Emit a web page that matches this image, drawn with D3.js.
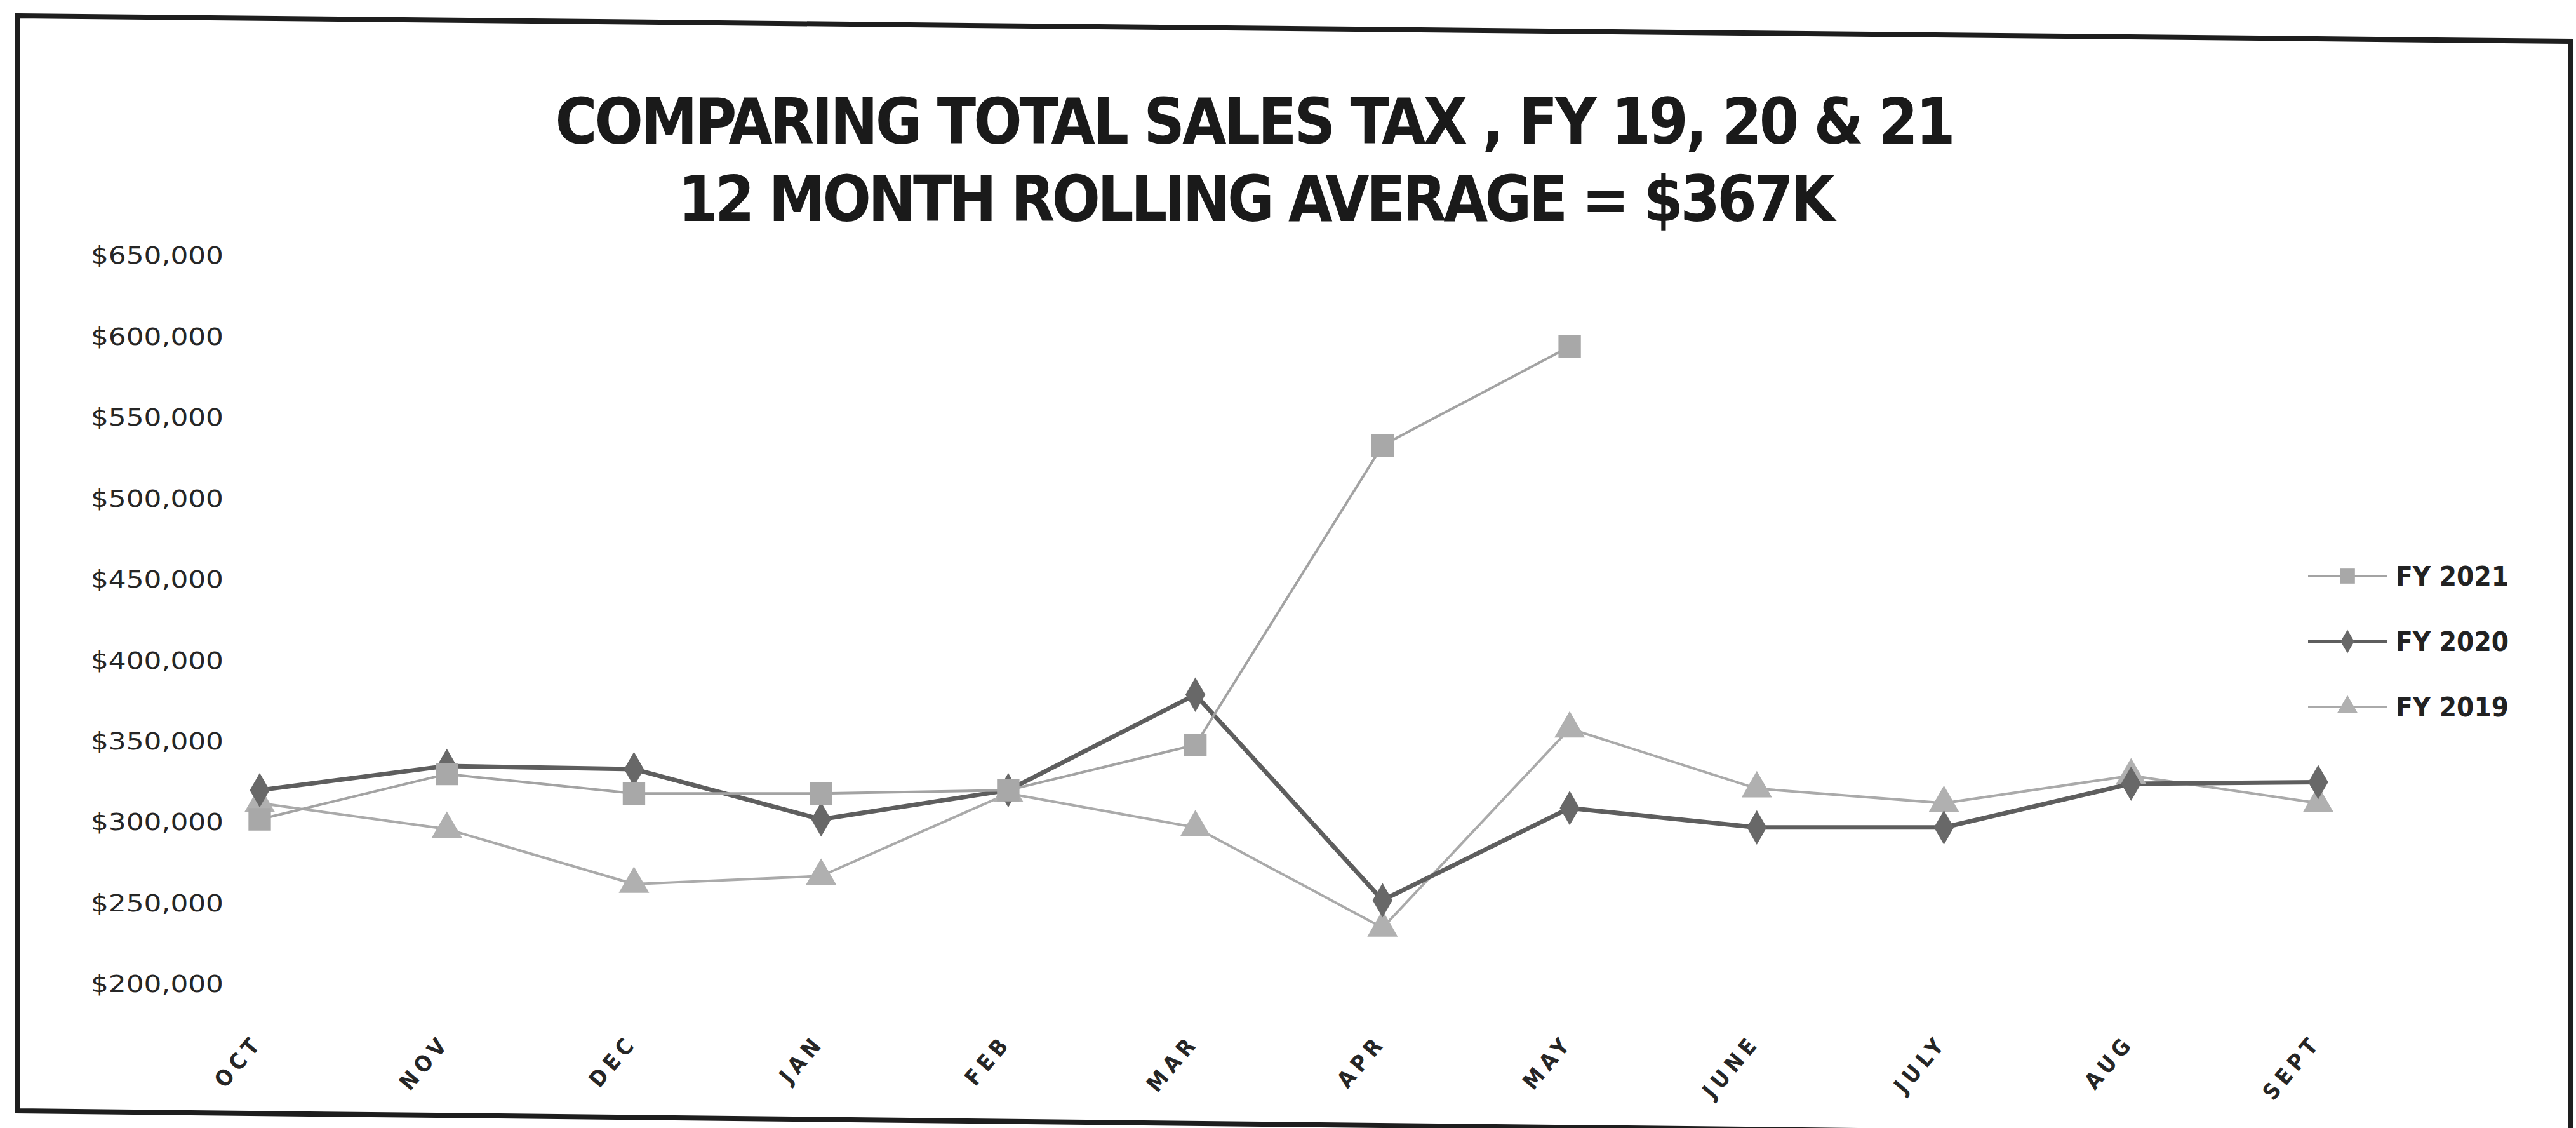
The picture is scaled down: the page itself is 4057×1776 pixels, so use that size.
<!DOCTYPE html>
<html>
<head>
<meta charset="utf-8">
<script src="https://cdn.jsdelivr.net/npm/d3@7"></script>
<style>
  html, body { margin: 0; padding: 0; background: #fff; }
  svg { display: block; }
</style>
</head>
<body>
<div id="chart"></div>
<script>
// Data
const months = ["OCT", "NOV", "DEC", "JAN", "FEB", "MAR", "APR", "MAY", "JUNE", "JULY", "AUG", "SEPT"];
const fy2021 = [302000, 330000, 318000, 318000, 320000, 348000, 533000, 594000];
const fy2020 = [320000, 335000, 333000, 302000, 320000, 379000, 252000, 309000, 297000, 297000, 324000, 325000];
const fy2019 = [312000, 296000, 262000, 267000, 318000, 297000, 235000, 358000, 321000, 312000, 329000, 312000];
const yTicks = [200000, 250000, 300000, 350000, 400000, 450000, 500000, 550000, 600000, 650000];
const titleLines = ["COMPARING TOTAL SALES TAX , FY 19, 20 & 21", "12 MONTH ROLLING AVERAGE = $367K"];

const series = [
  { name: "FY 2021", values: fy2021, color: "#a3a3a3", markerColor: "#a8a8a8", width: 4, symbol: d3.symbolSquare, size: 1250, legendSize: 560 },
  { name: "FY 2020", values: fy2020, color: "#5e5e5e", markerColor: "#686868", width: 7, symbol: d3.symbolDiamond, size: 850, legendSize: 400 },
  { name: "FY 2019", values: fy2019, color: "#aaaaaa", markerColor: "#b0b0b0", width: 4, symbol: d3.symbolTriangle, size: 1000, legendSize: 440 }
];

const width = 4057, height = 1776;
const font = "'DejaVu Sans Condensed', 'DejaVu Sans', sans-serif";

const svg = d3.select("#chart").append("svg")
  .attr("width", width)
  .attr("height", height)
  .attr("font-family", font);

svg.append("rect").attr("width", width).attr("height", height).attr("fill", "#fff");

// scanned page frame (slightly skewed)
svg.append("polygon")
  .attr("points", "28,25 4048,65 4048,1792 28,1749")
  .attr("fill", "none")
  .attr("stroke", "#1e1e1e")
  .attr("stroke-width", 8);

// title
const title = svg.append("g").attr("fill", "#1a1a1a").attr("font-weight", "bold");
title.append("text")
  .attr("x", 1977).attr("y", 226)
  .attr("text-anchor", "middle")
  .attr("font-size", 100)
  .attr("textLength", 2205)
  .attr("lengthAdjust", "spacing")
  .text(titleLines[0]);
title.append("text")
  .attr("x", 1979).attr("y", 348)
  .attr("text-anchor", "middle")
  .attr("font-size", 100)
  .attr("textLength", 1822)
  .attr("lengthAdjust", "spacing")
  .text(titleLines[1]);

// scales
const x = d3.scalePoint().domain(months).range([409, 3651]);
const y = d3.scaleLinear().domain([200000, 650000]).range([1550, 403]);

// y axis (labels only)
const yAxis = svg.append("g")
  .attr("transform", "translate(352,0)")
  .call(d3.axisLeft(y)
    .tickValues(yTicks)
    .tickSize(0)
    .tickPadding(0)
    .tickFormat(d => "$" + d3.format(",")(d)));
yAxis.select(".domain").remove();
yAxis.selectAll("text")
  .attr("font-size", 37)
  .attr("fill", "#262626")
  .attr("font-family", font)
  .attr("textLength", 209)
  .attr("lengthAdjust", "spacingAndGlyphs");

// x axis (rotated labels only)
const xAxis = svg.append("g")
  .attr("transform", "translate(0,1642)")
  .call(d3.axisBottom(x).tickSize(0).tickPadding(0));
xAxis.select(".domain").remove();
xAxis.selectAll("text")
  .attr("font-size", 35)
  .attr("font-weight", "bold")
  .attr("font-family", font)
  .attr("fill", "#262626")
  .attr("letter-spacing", 8)
  .attr("text-anchor", "end")
  .attr("dy", 0)
  .attr("transform", "translate(6,0) rotate(-50)");

// lines + markers
const line = d3.line()
  .x((d, i) => x(months[i]))
  .y(d => y(d));

const plot = svg.append("g");
series.slice().reverse().forEach(s => {
  plot.append("path")
    .datum(s.values)
    .attr("fill", "none")
    .attr("stroke", s.color)
    .attr("stroke-width", s.width)
    .attr("stroke-linejoin", "round")
    .attr("d", line);
});
series.slice().reverse().forEach(s => {
  plot.append("g").selectAll("path")
    .data(s.values)
    .join("path")
    .attr("transform", (d, i) => `translate(${x(months[i])},${y(d)})`)
    .attr("fill", s.markerColor)
    .attr("d", d3.symbol().type(s.symbol).size(s.size));
});

// legend
const legendY = d3.scalePoint().domain(series.map(s => s.name)).range([907, 1113]);
const legend = svg.append("g").selectAll("g")
  .data(series)
  .join("g")
  .attr("transform", d => `translate(3635,${legendY(d.name)})`);
legend.append("line")
  .attr("x1", 0).attr("x2", 124)
  .attr("stroke", d => d.color)
  .attr("stroke-width", d => d.width * 0.7);
legend.append("path")
  .attr("transform", "translate(62,0)")
  .attr("fill", d => d.markerColor)
  .attr("d", d => d3.symbol().type(d.symbol).size(d.legendSize)());
legend.append("text")
  .attr("x", 138)
  .attr("dy", "0.36em")
  .attr("font-size", 42)
  .attr("font-weight", "bold")
  .attr("fill", "#222")
  .attr("textLength", 178)
  .attr("lengthAdjust", "spacingAndGlyphs")
  .text(d => d.name);
</script>
</body>
</html>
